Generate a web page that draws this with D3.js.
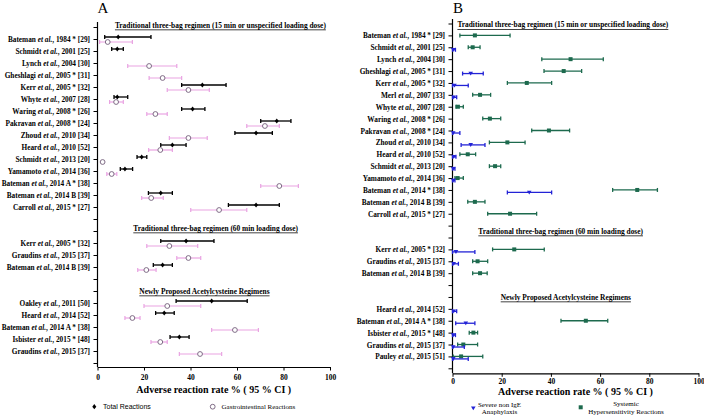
<!DOCTYPE html>
<html><head><meta charset="utf-8">
<script src="https://cdn.jsdelivr.net/npm/d3@7"></script>
<style>
body{margin:0;background:#fff;}
svg text{font-family:"Liberation Serif","Times New Roman",serif;}
</style></head><body>
<svg id="c" width="704" height="416"></svg>
<script>
// ---------- DATA ----------
const xTickValues = [0, 20, 40, 60, 80, 100];
const axisTitle = "Adverse reaction rate % ( 95 % CI )";
const sectionTitles = [
  "Traditional three-bag regimen (15 min or unspecified loading dose)",
  "Traditional three-bag regimen (60 min loading dose)",
  "Newly Proposed Acetylcysteine Regimens"
];

// Panel A categories (rows, top to bottom; "" = empty row)
const labelsA = ["",
  "Bateman et al., 1984 * [29]", "Schmidt et al., 2001 [25]", "Lynch et al., 2004 [30]",
  "Gheshlagi et al., 2005 * [31]", "Kerr et al., 2005 * [32]", "Whyte et al., 2007 [28]",
  "Waring et al., 2008 * [26]", "Pakravan et al., 2008 * [24]", "Zhoud et al., 2010 [34]",
  "Heard et al., 2010 [52]", "Schmidt et al., 2013 [20]", "Yamamoto et al., 2014 [36]",
  "Bateman et al., 2014 A * [38]", "Bateman et al., 2014 B [39]", "Carroll et al., 2015 * [27]",
  "", "",
  "Kerr et al., 2005 * [32]", "Graudins et al., 2015 [37]", "Bateman et al., 2014 B [39]",
  "", "",
  "Oakley et al., 2011 [50]", "Heard et al., 2014 [52]", "Bateman et al., 2014 A * [38]",
  "Isbister et al., 2015 * [48]", "Graudins et al., 2015 [37]",
  ""];
// Total reactions [rate, lowCI, highCI] per row
const totalA = [null,
  [8.9, 3.1, 23], [8.5, 6.1, 11.1], null,
  null, [45.1, 36.2, 55.3], [8.5, 7.1, 13],
  [40.9, 36.2, 46.2], [77.1, 70.2, 83.2], [68.2, 59.1, 75.2],
  [32.2, 27.2, 38.1], [19, 17, 21.2], [11.8, 9.8, 15.1],
  null, [27.2, 21.9, 32.2], [68.2, 56.3, 78.2],
  null, null,
  [38.1, 27.2, 50.1], null, [28, 24, 32.2],
  null, null,
  [49.1, 33.8, 64.4], [28.7, 25, 33], null,
  [35.2, 31.2, 39.4], null,
  null];
// Gastrointestinal reactions [rate, lowCI, highCI]
const giA = [null,
  [4.4, 0.9, 15], null, [22.2, 13, 34.1],
  [28, 22.2, 36.2], [39.1, 30, 48.1], [8, 5.2, 11.1],
  [24.9, 21.2, 30], [72, 64.2, 78.2], [39.1, 30.9, 47.2],
  [27, 22, 32.2], [2.2, 2.2, 2.2], [6.1, 4, 8.3],
  [78.2, 70.2, 86.4], [23.1, 19, 28.3], [52.3, 40.1, 64.2],
  null, null,
  [30.9, 21.2, 43.1], [39.1, 34.1, 44.4], [21, 17.3, 25.2],
  null, null,
  [30, 20, 44.4], [15, 11.8, 18.3], [59.1, 49.1, 69.2],
  [27, 23, 30], [44.1, 35.2, 53.4],
  null];

// Panel B categories
const labelsB = ["",
  "Bateman et al., 1984 * [29]", "Schmidt et al., 2001 [25]", "Lynch et al., 2004 [30]",
  "Gheshlagi et al., 2005 * [31]", "Kerr et al., 2005 * [32]", "Merl et al., 2007 [33]",
  "Whyte et al., 2007 [28]", "Waring et al., 2008 * [26]", "Pakravan et al., 2008 * [24]",
  "Zhoud et al., 2010 [34]", "Heard et al., 2010 [52]", "Schmidt et al., 2013 [20]",
  "Yamamoto et al., 2014 [36]", "Bateman et al., 2014 * [38]", "Bateman et al., 2014 B [39]",
  "Carroll et al., 2015 * [27]",
  "", "",
  "Kerr et al., 2005 * [32]", "Graudins et al., 2015 [37]", "Bateman et al., 2014 B [39]",
  "", "",
  "Heard et al., 2014 [52]", "Bateman et al., 2014 A * [38]", "Isbister et al., 2015 * [48]",
  "Graudins et al., 2015 [37]", "Pauley et al., 2015 [51]",
  ""];
// Severe non IgE anaphylaxis [rate, lowCI, highCI]
const anaB = [null,
  null, [0.3, 0, 1.2], null,
  [7.4, 4.1, 12.5], [0.8, 0, 6.4], [0.5, 0, 1.7],
  null, null, [0.3, 0, 3],
  [7.4, 3.5, 13.2], [0.5, 0, 1.4], [0.3, 0, 1],
  [0.3, 0, 1], [31.2, 22.3, 40.3], null,
  null,
  null, null,
  [1.4, 0, 9.1], [0.5, 0, 2.4], null,
  null, null,
  [0.5, 0, 1.7], [5.4, 1.3, 9.1], [0.3, 0, 1.2],
  [0.3, 0, 4.8], [0.3, 0, 6.4],
  null];
// Systemic hypersensitivity reactions [rate, lowCI, highCI]
const sysB = [null,
  [9.1, 3, 23.4], [8.2, 6.4, 11.2], [48, 36.3, 61.3],
  [45.2, 37.2, 52.5], [30.2, 22.3, 40.3], [11.2, 8.2, 15.5],
  [2.2, 1.4, 4.4], [15.2, 12.3, 19.6], [39.2, 32.2, 47.6],
  [22.3, 15, 29.5], [6.2, 3, 9.4], [17.3, 15, 19.6],
  [2.1, 1, 4.4], [75.1, 65.1, 83.3], [9.1, 6.2, 13.2],
  [23.4, 14.3, 34.2],
  null, null,
  [25.1, 16.3, 37.3], [10.2, 8.2, 14.3], [11.2, 8.2, 14.1],
  null, null,
  null, [54.2, 44.1, 63.1], [8.5, 6.8, 10.2],
  [4.4, 2.1, 10.2], [3.5, 0.3, 12.3],
  null];

// ---------- LAYOUT ----------
const svg = d3.select("#c");
const PINK = "#e9a3e2", CIRC = "#7f6c86", GREEN = "#1d6a4e", BLUE = "#2323d6";
const LFS = 7.3; // label font size

function addLabel(g, txt, x, y, fs, anchor) {
  const t = g.append("text").attr("x", x).attr("y", y)
    .attr("text-anchor", anchor).attr("dominant-baseline", "central")
    .attr("font-size", fs).attr("font-weight", "bold");
  const parts = txt.split("et al.");
  t.append("tspan").text(parts[0]);
  if (parts.length > 1) {
    t.append("tspan").attr("font-style", "italic").text("et al.");
    t.append("tspan").text(parts[1]);
  }
  return t;
}

function drawPanel(p) {
  const g = svg.append("g");
  const n = p.labels.length;
  const x = d3.scaleLinear().domain([0, 100]).range([p.x0, p.x1]);
  const y = d3.scalePoint().domain(d3.range(n)).range([p.yFirst, p.yLast]);

  // panel letter
  g.append("text").attr("x", p.letterX).attr("y", 13).attr("text-anchor", "middle")
    .attr("font-size", 15).text(p.letter);

  // y axis
  const ya = g.append("g").attr("transform", `translate(${p.x0},0)`)
    .call(d3.axisLeft(y).tickSize(4).tickSizeOuter(0).tickFormat(() => ""));
  ya.select(".domain").remove();
  ya.selectAll("line").attr("stroke", "#000").attr("stroke-width", 1);
  g.append("line").attr("x1", p.x0).attr("x2", p.x0).attr("y1", p.yTop).attr("y2", p.axisY)
    .attr("stroke", "#000").attr("stroke-width", 1.2);

  p.labels.forEach((l, i) => { if (l) addLabel(g, l, p.x0 - 7.5, y(i), LFS, "end"); });

  // x axis
  const xa = g.append("g").attr("transform", `translate(0,${p.axisY})`)
    .call(d3.axisBottom(x).tickValues(xTickValues).tickSize(3.5).tickSizeOuter(0));
  xa.select(".domain").attr("stroke-width", 1.2);
  xa.selectAll("text").attr("font-size", 7.5).attr("font-weight", "bold")
    .attr("font-family", "Liberation Serif, serif").attr("dy", null)
    .attr("y", p.tickLabelY - p.axisY).attr("dominant-baseline", "central");

  g.append("text").attr("x", (p.x0 + p.x1) / 2).attr("y", p.axisTitleY)
    .attr("text-anchor", "middle").attr("dominant-baseline", "central")
    .attr("font-size", 10).attr("font-weight", "bold").text(axisTitle);

  // section titles
  sectionTitles.forEach((s, k) => {
    g.append("text").attr("x", x(p.titleStarts[k])).attr("y", p.titleY[k])
      .attr("dominant-baseline", "central").attr("font-size", 7.4).attr("font-weight", "bold")
      .attr("text-decoration", "underline").text(s);
  });

  // series
  p.series.forEach(s => {
    s.data.forEach((d, i) => {
      if (!d) return;
      const yy = y(i) + s.dy;
      const [m, lo, hi] = d;
      g.append("line").attr("x1", x(lo)).attr("x2", x(hi)).attr("y1", yy).attr("y2", yy)
        .attr("stroke", s.color).attr("stroke-width", s.lw);
      [lo, hi].forEach(v => g.append("line").attr("x1", x(v)).attr("x2", x(v))
        .attr("y1", yy - 2).attr("y2", yy + 2).attr("stroke", s.color).attr("stroke-width", s.lw));
      drawMarker(g, s.marker, x(m), yy);
    });
  });
}

function drawMarker(g, type, cx, cy) {
  if (type === "diamond") {
    g.append("path").attr("d", `M${cx},${cy - 2.6}L${cx + 2},${cy}L${cx},${cy + 2.6}L${cx - 2},${cy}Z`).attr("fill", "#000");
  } else if (type === "circle") {
    g.append("circle").attr("cx", cx).attr("cy", cy).attr("r", 2.4)
      .attr("fill", "#fff").attr("stroke", CIRC).attr("stroke-width", 1);
  } else if (type === "square") {
    g.append("rect").attr("x", cx - 2).attr("y", cy - 2).attr("width", 4).attr("height", 4).attr("fill", GREEN);
  } else if (type === "triangle") {
    g.append("path").attr("d", `M${cx - 2.3},${cy - 1.8}L${cx + 2.3},${cy - 1.8}L${cx},${cy + 2}Z`).attr("fill", BLUE);
  }
}

drawPanel({
  labels: labelsA, x0: 97.5, x1: 330, yFirst: 27, yLast: 363, yTop: 22, axisY: 367,
  letter: "A", letterX: 103, tickLabelY: 377, axisTitleY: 389,
  titleStarts: [7.5, 15.4, 18], titleY: [25, 228, 291],
  series: [
    { data: totalA, dy: -2, color: "#000", lw: 1.3, marker: "diamond" },
    { data: giA, dy: 3, color: PINK, lw: 1.2, marker: "circle" }
  ]
});
drawPanel({
  labels: labelsB, x0: 452.5, x1: 698.5, yFirst: 23.5, yLast: 368.3, yTop: 19, axisY: 373.3,
  letter: "B", letterX: 458, tickLabelY: 381.7, axisTitleY: 391.7,
  titleStarts: [2, 10.5, 19.6], titleY: [24.5, 231, 297],
  series: [
    { data: sysB, dy: 0, color: GREEN, lw: 1.3, marker: "square" },
    { data: anaB, dy: 2.5, color: BLUE, lw: 1.3, marker: "triangle" }
  ]
});

// ---------- LEGENDS ----------
const leg = svg.append("g");
drawMarker(leg, "diamond", 94.3, 406.7);
leg.append("text").attr("x", 103).attr("y", 406.7).attr("dominant-baseline", "central")
  .attr("font-size", 7).style("font-family", "Liberation Sans, Arial, sans-serif").text("Total Reactions");
drawMarker(leg, "circle", 212.7, 406.7);
leg.append("text").attr("x", 221.5).attr("y", 406.7).attr("dominant-baseline", "central")
  .attr("font-size", 7).text("Gastrointestinal Reactions");
drawMarker(leg, "triangle", 473.3, 408.3);
[["Severe non IgE", 404.5], ["Anaphylaxis", 412.3]].forEach(([t, yy]) =>
  leg.append("text").attr("x", 499.5).attr("y", yy).attr("text-anchor", "middle")
    .attr("dominant-baseline", "central").attr("font-size", 7).text(t));
drawMarker(leg, "square", 580.7, 407.3);
[["Systemic", 404], ["Hypersensitivity Reactions", 412]].forEach(([t, yy]) =>
  leg.append("text").attr("x", 626).attr("y", yy).attr("text-anchor", "middle")
    .attr("dominant-baseline", "central").attr("font-size", 7).text(t));
</script></body></html>
